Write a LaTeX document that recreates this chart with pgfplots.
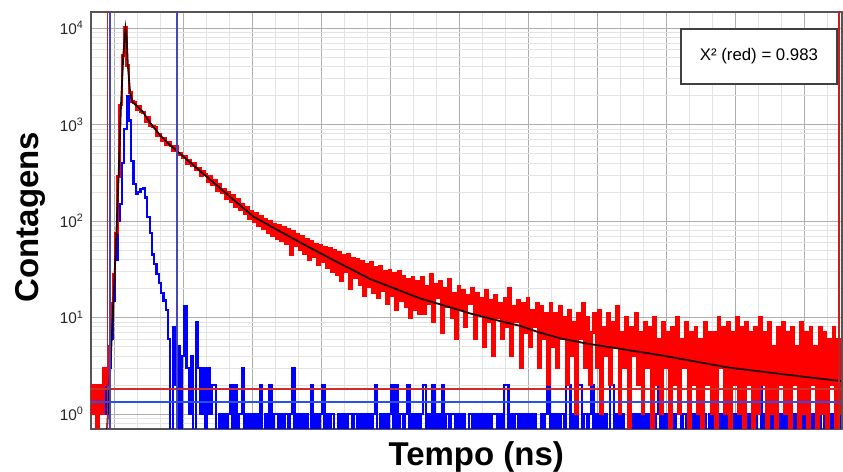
\documentclass[border=0pt]{standalone}
\usepackage{fontspec}
\setmainfont{Liberation Sans}
\usepackage{pgfplots}
\usepackage{pgfplotstable}
\pgfplotsset{compat=1.18}
\definecolor{framegray}{HTML}{555555}
\definecolor{fitblack}{HTML}{200000}
\definecolor{vlblue}{RGB}{70,70,185}
\definecolor{vlred}{RGB}{200,30,30}
\definecolor{hlred}{RGB}{205,45,45}
\definecolor{hlblue}{RGB}{40,80,235}

% red decay histogram, one value per channel (x = index * 0.1)
\pgfplotstableread[row sep=\\]{
y\\
2\\1\\2\\0.4\\2\\1\\3\\2\\5\\14\\
28\\75\\290\\1600\\5200\\10100\\4100\\2150\\1720\\1680\\
1430\\1560\\1350\\1330\\1080\\1200\\970\\950\\940\\770\\
800\\680\\720\\620\\650\\600\\530\\590\\490\\500\\
450\\470\\390\\430\\370\\395\\340\\350\\295\\325\\
305\\255\\290\\240\\262\\205\\240\\195\\215\\170\\
200\\160\\185\\140\\168\\132\\150\\118\\140\\105\\
126\\98\\120\\90\\112\\84\\105\\76\\100\\70\\
92\\66\\90\\62\\86\\58\\82\\45\\78\\55\\
72\\50\\70\\46\\64\\40\\62\\43\\58\\35\\
56\\38\\54\\33\\52\\30\\50\\28\\47\\24\\
44\\30\\45\\20\\41\\26\\40\\22\\38\\17\\
36\\21\\37\\18\\33\\16\\34\\19\\30\\14\\
31\\17\\29\\12\\30\\15\\27\\13\\25\\10\\
26\\12\\24\\11\\26\\11\\21\\14\\28\\9\\
22\\16\\24\\7\\20\\13\\25\\10\\18\\6\\
21\\12\\19\\8\\17\\14\\20\\6\\18\\11\\
16\\5\\19\\9\\15\\4\\17\\10\\14\\6\\
16\\8\\20\\4\\13\\9\\15\\3\\14\\7\\
16\\5\\12\\8\\14\\3\\13\\6\\11\\2\\
14\\5\\11\\3\\13\\6\\10\\2\\12\\4\\
9\\1\\11\\6\\14\\3\\10\\2\\7\\11\\
3\\12\\1\\8\\4\\11\\2\\9\\5\\13\\
1\\7\\3\\10\\0.4\\8\\4\\11\\2\\7\\
1\\9\\3\\8\\0.4\\10\\2\\6\\1\\9\\
3\\7\\0.4\\8\\2\\10\\1\\6\\3\\9\\
0.4\\7\\2\\8\\1\\6\\0.4\\9\\2\\7\\
1\\7\\0.4\\10\\3\\8\\1\\9\\0.4\\7\\
2\\10\\1\\8\\0.4\\9\\2\\7\\0.4\\8\\
1\\10\\2\\7\\0.4\\9\\1\\5\\0.4\\8\\
2\\9\\1\\7\\0.4\\8\\2\\5\\0.4\\9\\
1\\7\\0.4\\8\\2\\5\\0.4\\8\\1\\7\\
0.4\\6\\2\\8\\0.4\\6\\1\\
}\redtab

% blue instrument response, one value per channel (x = index * 0.1)
\pgfplotstableread[row sep=\\]{
y\\
2\\1\\2\\0.4\\1\\2\\1\\2\\3\\6\\
15\\40\\100\\150\\400\\900\\1950\\1100\\420\\240\\
190\\200\\215\\220\\175\\110\\75\\45\\36\\28\\
23\\18\\15\\12\\6\\0.4\\8\\2\\5\\0.4\\
4\\13\\3\\1\\4\\0.4\\9\\3\\1\\3\\
0.4\\3\\1\\2\\2\\0.4\\1\\0.4\\1\\0.4\\
1\\2\\0.4\\2\\0.4\\1\\3\\0.4\\1\\0.4\\
1\\0.4\\1\\0.4\\2\\0.4\\1\\0.4\\2\\0.4\\
1\\1\\0.4\\1\\0.4\\1\\0.4\\1\\3\\0.4\\
1\\0.4\\1\\0.4\\1\\0.4\\2\\0.4\\1\\0.4\\
1\\2\\0.4\\1\\0.4\\1\\0.4\\0.4\\1\\0.4\\
1\\0.4\\1\\1\\0.4\\1\\0.4\\1\\0.4\\1\\
0.4\\1\\0.4\\1\\2\\0.4\\1\\0.4\\1\\0.4\\
1\\2\\0.4\\2\\0.4\\1\\0.4\\1\\2\\0.4\\
1\\0.4\\1\\0.4\\1\\2\\0.4\\1\\0.4\\2\\
0.4\\1\\0.4\\2\\0.4\\1\\0.4\\1\\1\\0.4\\
1\\0.4\\1\\0.4\\0.4\\1\\0.4\\1\\0.4\\1\\
0.4\\1\\0.4\\1\\0.4\\1\\1\\0.4\\1\\0.4\\
2\\2\\0.4\\1\\0.4\\1\\0.4\\1\\0.4\\1\\
0.4\\1\\0.4\\1\\0.4\\0.4\\1\\0.4\\1\\2\\
0.4\\1\\0.4\\1\\0.4\\1\\0.4\\2\\2\\0.4\\
1\\0.4\\2\\2\\0.4\\1\\0.4\\1\\2\\0.4\\
1\\0.4\\1\\0.4\\1\\0.4\\2\\2\\0.4\\1\\
0.4\\1\\0.4\\0.4\\1\\0.4\\1\\0.4\\1\\0.4\\
2\\0.4\\1\\0.4\\1\\0.4\\1\\2\\0.4\\1\\
0.4\\1\\0.4\\1\\0.4\\1\\1\\0.4\\1\\0.4\\
1\\0.4\\1\\0.4\\1\\0.4\\0.4\\1\\0.4\\1\\
0.4\\2\\0.4\\1\\0.4\\1\\0.4\\1\\0.4\\1\\
0.4\\1\\0.4\\1\\1\\0.4\\1\\0.4\\1\\0.4\\
1\\2\\0.4\\1\\0.4\\1\\0.4\\1\\0.4\\1\\
0.4\\1\\0.4\\1\\2\\0.4\\1\\0.4\\1\\0.4\\
1\\0.4\\2\\0.4\\1\\0.4\\1\\0.4\\1\\0.4\\
1\\0.4\\1\\0.4\\1\\0.4\\1\\
}\bluetab

\begin{document}
\begin{tikzpicture}
\begin{axis}[
  scale only axis,
  width=375.5pt, height=208.5pt,
  xmin=0, xmax=32.65,
  ymode=log, ymin=0.70, ymax=14650,
  axis line style={draw=framegray, line width=0.8pt},
  xtick={1,4,...,31}, xticklabels={},
  minor xtick={0,1,...,32},
  ytick={1,10,100,1000,10000},
  yticklabels={10\textsuperscript{0},10\textsuperscript{1},10\textsuperscript{2},10\textsuperscript{3},10\textsuperscript{4}},
  minor ytick={0.8,0.9,2,3,4,5,6,7,8,9,20,30,40,50,60,70,80,90,200,300,400,500,600,700,800,900,2000,3000,4000,5000,6000,7000,8000,9000},
  major tick length=0pt, minor tick length=0pt,
  grid=both,
  major grid style={draw=black!32, line width=0.5pt},
  minor grid style={draw=black!11, line width=0.4pt},
  yticklabel style={font=\fontsize{7.7}{9}\selectfont, text=black!85},
  xlabel={Tempo (ns)}, ylabel={Contagens},
  xlabel style={font=\fontsize{16.5}{18}\selectfont\bfseries, at={(axis description cs:0.513,-0.067)}, anchor=center},
  ylabel style={font=\fontsize{16.5}{18}\selectfont\bfseries, at={(axis description cs:-0.0812,0.508)}, anchor=center},
]
\addplot[const plot mark mid, color=blue, line width=1.1pt] table[x expr=\coordindex*0.1, y=y] {\bluetab};
\addplot[const plot mark mid, color=red, line width=1.3pt] table[x expr=\coordindex*0.1, y=y] {\redtab};
\addplot[color=fitblack, line width=0.9pt] coordinates {
(0.70,0.7)(0.80,2.0)(0.90,6)(1.00,20)(1.10,70)(1.20,290)(1.30,1500)(1.40,5000)(1.50,9900)(1.55,8000)(1.60,4200)(1.70,2150)(1.80,1720)(2.26,1350)(2.57,1040)(3.0,776)(3.43,614)(4.0,469)(4.88,309)(5.5,231)(6.0,182)(7.06,111)(8.22,78)(9.09,60)(10.5,39.8)(11.3,31.8)(12.13,25.1)(13.2,20.0)(14.3,15.8)(15.5,13.0)(16.5,11.0)(17.5,9.55)(18.65,8.2)(19.5,7.0)(20.39,6.1)(21.5,5.4)(22.5,4.95)(23.6,4.5)(24.74,4.08)(26.0,3.6)(27.65,3.05)(29.0,2.78)(30.0,2.6)(31.2,2.4)(32.6,2.2)
};
\addplot[color=hlred, line width=0.7pt] coordinates {(0,1.82)(32.65,1.82)};
\addplot[color=hlblue, line width=0.8pt] coordinates {(0,1.34)(32.65,1.34)};
\addplot[color=vlred, line width=0.6pt] coordinates {(0.70,0.5)(0.70,20000)};
\addplot[color=vlblue, line width=0.8pt] coordinates {(0.82,0.5)(0.82,20000)};
\addplot[color=vlblue, line width=0.8pt] coordinates {(3.75,0.5)(3.75,20000)};
\addplot[color=vlred, line width=0.6pt] coordinates {(32.52,0.5)(32.52,20000)};
\node[draw=black!75, fill=white, line width=0.6pt, minimum width=78pt, minimum height=27.5pt, font=\fontsize{8.4}{10}\selectfont] at (axis cs:29.04,5070) {X² (red) = 0.983};
\end{axis}
\pgfresetboundingbox
\path ([xshift=-45.5pt,yshift=-21.5pt]current axis.south west) rectangle ([xshift=0.5pt,yshift=6pt]current axis.north east);
\end{tikzpicture}
\end{document}
